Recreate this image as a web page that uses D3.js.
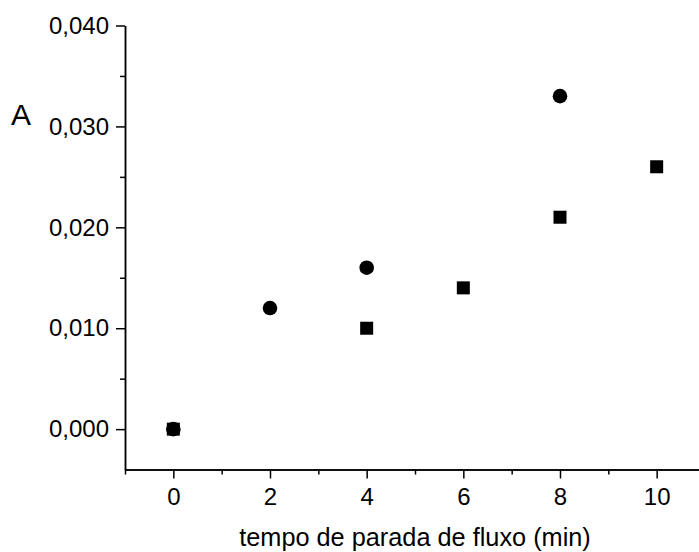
<!DOCTYPE html>
<html>
<head>
<meta charset="utf-8">
<script src="https://cdn.jsdelivr.net/npm/d3@7"></script>
<style>
  body { margin: 0; background: #fff; }
  svg { display: block; font-family: "Liberation Sans", Arial, sans-serif; }
  .axis path, .axis line { stroke: #000; stroke-width: 1.5; }
  .axis text { fill: #000; font-size: 24px; }
</style>
</head>
<body>
<div id="chart"></div>
<script>
// data
var circleTimes = [0, 2, 4, 8];
var circleValues = [0.000, 0.012, 0.016, 0.033];
var squareTimes = [0, 4, 6, 8, 10];
var squareValues = [0.000, 0.010, 0.014, 0.021, 0.026];

var xMajorTicks = [0, 2, 4, 6, 8, 10];
var xMinorTicks = [-1, 1, 3, 5, 7, 9, 11];
var yMajorTicks = [0, 0.01, 0.02, 0.03, 0.04];
var yMinorTicks = [0.005, 0.015, 0.025, 0.035];

var svgWidth = 699;
var svgHeight = 552;

var chartMargin = {top: 25.5, left: 125};
var chartWidth = 580;
var chartHeight = 444;

var svg = d3.select("#chart")
    .append("svg")
    .attr("width", svgWidth)
    .attr("height", svgHeight);

var chartGroup = svg.append("g")
    .attr("transform", `translate(${chartMargin.left}, ${chartMargin.top})`);

var ptBr = d3.formatLocale({decimal: ",", thousands: ".", grouping: [3], currency: ["", ""]});
var yFormat = ptBr.format(".3f");

var xScale = d3.scaleLinear().domain([-1, 11]).range([0, chartWidth]);
var yScale = d3.scaleLinear().domain([-0.004, 0.040]).range([chartHeight, 0]);

// minor ticks first, then the labelled axes on top
chartGroup.append("g")
    .attr("class", "axis")
    .attr("transform", `translate(0, ${chartHeight})`)
    .call(d3.axisBottom(xScale).tickValues(xMinorTicks).tickSize(5).tickSizeOuter(0).tickFormat(""));

chartGroup.append("g")
    .attr("class", "axis")
    .call(d3.axisLeft(yScale).tickValues(yMinorTicks).tickSize(5).tickSizeOuter(0).tickFormat(""));

var xAxis = chartGroup.append("g")
    .attr("class", "axis")
    .attr("transform", `translate(0, ${chartHeight})`)
    .call(d3.axisBottom(xScale).tickValues(xMajorTicks).tickSize(9).tickSizeOuter(0).tickPadding(9));

var yAxis = chartGroup.append("g")
    .attr("class", "axis")
    .call(d3.axisLeft(yScale).tickValues(yMajorTicks).tickSize(9).tickSizeOuter(0).tickPadding(7).tickFormat(yFormat));

// points
chartGroup.selectAll("rect.sq")
    .data(squareTimes)
    .enter()
    .append("rect")
    .attr("class", "sq")
    .attr("x", d => xScale(d) - 6.5)
    .attr("y", (d, i) => yScale(squareValues[i]) - 6.5)
    .attr("width", 13)
    .attr("height", 13)
    .attr("fill", "#000");

chartGroup.selectAll("circle")
    .data(circleTimes)
    .enter()
    .append("circle")
    .attr("cx", d => xScale(d))
    .attr("cy", (d, i) => yScale(circleValues[i]))
    .attr("r", 7.3)
    .attr("fill", "#000");

// labels
svg.append("text")
    .attr("x", chartMargin.left + chartWidth / 2)
    .attr("y", 546)
    .attr("text-anchor", "middle")
    .style("font-size", "25.3px")
    .text("tempo de parada de fluxo (min)");

svg.append("text")
    .attr("x", 11)
    .attr("y", 125)
    .style("font-size", "30px")
    .text("A");
</script>
</body>
</html>
